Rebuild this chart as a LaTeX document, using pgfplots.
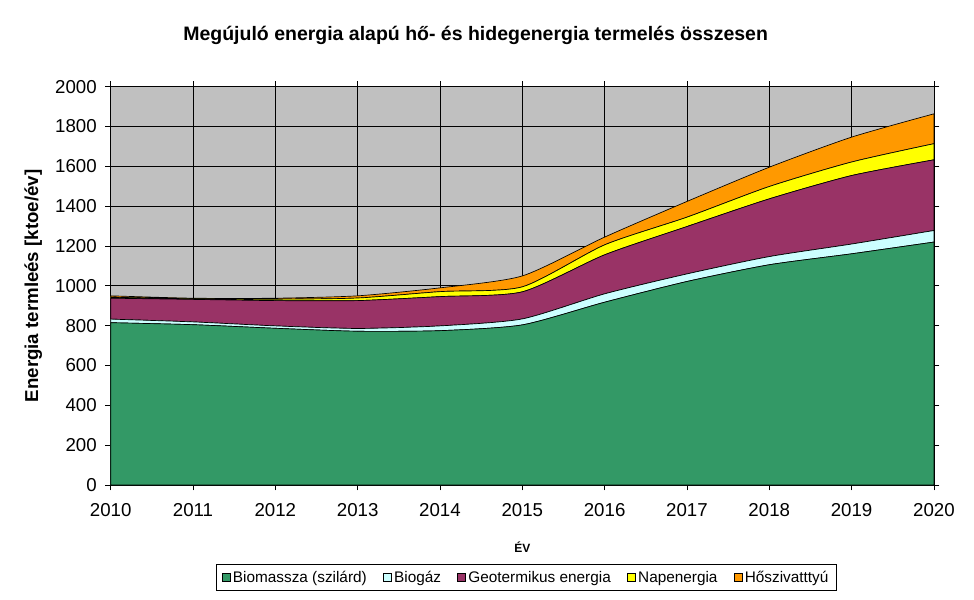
\documentclass[border=0pt]{standalone}
\usepackage{pgfplots}
\pgfplotsset{compat=1.18}
\usepackage{fontspec}
\setmainfont{Liberation Sans}
\definecolor{cbio}{HTML}{339966}
\definecolor{cgas}{HTML}{CCFFFF}
\definecolor{cgeo}{HTML}{993366}
\definecolor{csol}{HTML}{FFFF00}
\definecolor{chp}{HTML}{FF9900}
\definecolor{cbg}{HTML}{C0C0C0}
\begin{document}
\begin{tikzpicture}
\useasboundingbox (-83pt,-86pt) rectangle (647pt,363.5pt);
\begin{axis}[
  at={(0,0)}, anchor=south west,
  scale only axis, width=617pt, height=298.5pt,
  xmin=2010, xmax=2020, ymin=0, ymax=2000,
  xtick={2010,...,2020}, ytick={0,200,...,2000},
  /pgf/number format/assume math mode=true,
  /pgf/number format/1000 sep={},
  tick label style={font=\fontsize{14}{16}\selectfont},
  xticklabel style={yshift=-6pt},
  yticklabel style={xshift=-3pt},
  grid=major, grid style={black, line width=0.6pt},
  axis line style={black, line width=0.6pt},
  tick align=outside, major tick length=4pt, tick style={black, line width=0.6pt},
  axis background/.style={fill=cbg},
  stack plots=y,
  title={\bfseries Megújuló energia alapú hő- és hidegenergia termelés összesen},
  title style={font=\fontsize{14.6}{16}\selectfont, at={(0.5,1)}, yshift=22pt, xshift=-35pt, anchor=south},
  xlabel={ÉV}, xlabel style={font=\fontsize{9}{11}\selectfont\bfseries, at={(0.5,0)}, yshift=-39pt, anchor=north},
  ylabel={\bfseries Energia termleés [ktoe/év]},
  ylabel style={font=\fontsize{14}{16}\selectfont, at={(0,0.5)}, yshift=48pt, anchor=south},
  legend columns=5,
  legend style={at={(0.5,0)}, anchor=north, yshift=-59pt, xshift=3pt, draw=black, line width=0.6pt,
    font=\fontsize{11.5}{13}\selectfont, inner xsep=4pt, inner ysep=3pt,
    /tikz/every even column/.append style={column sep=10pt}},
  legend image code/.code={\draw[#1, draw=black, line width=0.5pt] (0pt,-3pt) rectangle (6pt,3pt);},
  every axis plot/.append style={draw=black, line width=0.5pt, smooth, tension=0.4},
]
\addplot[fill=cbio] coordinates {(2010,815) (2011,805) (2012,787) (2013,772) (2014,775) (2015,804) (2016,918) (2017,1022) (2018,1106) (2019,1161) (2020,1220)} \closedcycle;
\addplot[fill=cgas] coordinates {(2010,18) (2011,14) (2012,12) (2013,14) (2014,24) (2015,30) (2016,42) (2017,38) (2018,41) (2019,49) (2020,58)} \closedcycle;
\addplot[fill=cgeo] coordinates {(2010,105) (2011,113) (2012,127) (2013,140) (2014,147) (2015,136) (2016,196) (2017,238) (2018,290) (2019,344) (2020,355)} \closedcycle;
\addplot[fill=csol] coordinates {(2010,5) (2011,3) (2012,7) (2013,13) (2014,25) (2015,25) (2016,50) (2017,47) (2018,62) (2019,68) (2020,81)} \closedcycle;
\addplot[fill=chp] coordinates {(2010,7) (2011,3) (2012,5) (2013,11) (2014,19) (2015,55) (2016,39) (2017,79) (2018,97) (2019,125) (2020,150)} \closedcycle;
\legend{Biomassza (szilárd), Biogáz, Geotermikus energia, Napenergia, Hőszivatttyú}
\end{axis}
\end{tikzpicture}
\end{document}
